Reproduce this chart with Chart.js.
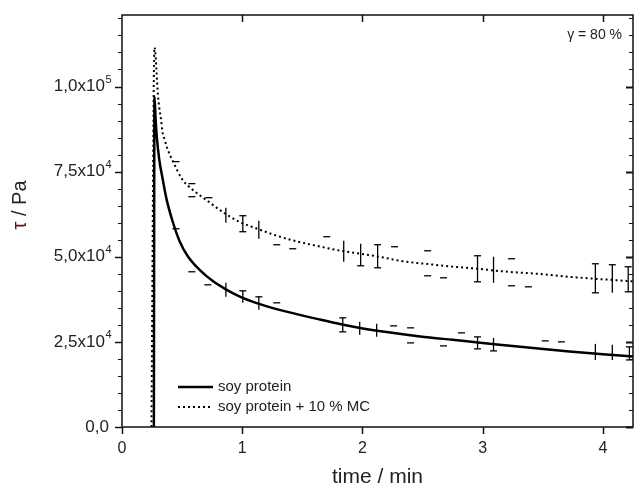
<!DOCTYPE html>
<html>
<head>
<meta charset="utf-8">
<script src="https://cdn.jsdelivr.net/npm/chart.js@4.4.0/dist/chart.umd.min.js"></script>
<style>
  html, body { margin: 0; padding: 0; background: #fff; }
</style>
</head>
<body>
<canvas id="grafico" width="635" height="489"></canvas>
<script>
// Dados (tempo em min, tensão em Pa)
const soloT = [0.265, 0.27, 0.28, 0.29, 0.31, 0.34, 0.37, 0.42, 0.48, 0.55, 0.65, 0.75, 0.86, 0.98, 1.12, 1.31, 1.64, 1.83, 1.98, 2.20, 2.48, 2.75, 3.00, 3.16, 3.44, 3.72, 4.00, 4.25];
const soloV = [0, 97000, 90000, 85000, 78500, 72500, 67000, 60500, 54500, 50000, 46000, 43000, 40500, 38300, 36400, 34400, 31600, 30100, 29100, 27900, 26600, 25600, 24700, 24100, 23100, 22200, 21400, 20700];

const mcT = [0.245, 0.27, 0.30, 0.31, 0.325, 0.335, 0.355, 0.375, 0.42, 0.50, 0.59, 0.70, 0.84, 0.98, 1.12, 1.26, 1.40, 1.62, 1.83, 1.98, 2.14, 2.33, 2.56, 2.75, 2.95, 3.17, 3.45, 3.72, 3.95, 4.20, 4.25];
const mcV = [0, 111500, 97000, 93800, 90200, 87000, 84400, 82000, 78300, 72800, 69600, 66700, 63100, 60200, 58300, 56500, 55000, 53200, 51700, 50900, 50000, 48700, 47800, 47100, 46500, 45700, 45000, 44100, 43500, 42900, 42800];

// Barras de erro (posição, limite inferior, superior, quais tampas aparecem)
const soloBarT = [0.864, 1.005, 1.138, 1.836, 1.977, 2.118, 2.957, 3.09, 3.937, 4.078, 4.22];
const soloBarLo = [38230, 36470, 34410, 27940, 27060, 26470, 22940, 22350, 19700, 19700, 19700];
const soloBarHi = [42350, 40000, 38230, 32060, 30880, 30290, 26470, 26180, 24410, 24120, 23530];
const soloBarCap = ['none', 'top', 'top', 'both', 'none', 'none', 'both', 'bottom', 'none', 'none', 'both'];
const soloCapT = [0.449, 0.581, 0.714, 1.287, 2.259, 2.4, 2.4, 2.674, 2.824, 3.52, 3.655];
const soloCapV = [58230, 45590, 41760, 36470, 29700, 29120, 24700, 23820, 27650, 25290, 25000];

const mcBarT = [0.864, 1.005, 1.138, 1.844, 1.985, 2.126, 2.957, 3.09, 3.937, 4.078, 4.21];
const mcBarLo = [60000, 57350, 55290, 48530, 47350, 46760, 42640, 42350, 39410, 39410, 39700];
const mcBarHi = [64400, 62050, 60590, 54700, 53820, 53530, 50290, 50000, 47940, 47650, 47060];
const mcBarCap = ['none', 'both', 'none', 'none', 'bottom', 'both', 'both', 'none', 'both', 'top', 'both'];
const mcCapT = [0.449, 0.581, 0.581, 0.723, 1.287, 1.42, 1.703, 2.267, 2.542, 2.542, 2.674, 3.24, 3.24, 3.38];
const mcCapV = [77940, 71470, 67640, 67350, 53530, 52350, 55880, 52940, 51760, 44410, 43820, 49410, 41470, 41170];

const nomes = ['soy protein', 'soy protein + 10 % MC'];
const xTicks = [0, 1, 2, 3, 4];
const yTicks = [0, 25000, 50000, 75000, 100000];
const xMax = 4.25;
const yMax = 121000;

const fonte = '"Liberation Sans", Arial, sans-serif';
const corTexto = '#222';

function pontos(ts, vs) {
    return ts.map((t, i) => ({ x: t, y: vs[i] }));
}

function traco(ctx, x1, y1, x2, y2, w) {
    ctx.lineWidth = w;
    ctx.beginPath();
    ctx.moveTo(x1, y1);
    ctx.lineTo(x2, y2);
    ctx.stroke();
}

// Rótulo do eixo y no estilo 2,5x10⁴ (expoente menor e elevado)
function rotuloY(ctx, v, xDir, py) {
    ctx.textAlign = 'left';
    ctx.textBaseline = 'middle';
    if (v === 0) {
        ctx.font = '17px ' + fonte;
        const w = ctx.measureText('0,0').width;
        ctx.fillText('0,0', xDir - w - 2, py);
        return;
    }
    const e = Math.floor(Math.log10(v) + 1e-9);
    const base = (v / Math.pow(10, e)).toFixed(1).replace('.', ',') + 'x10';
    ctx.font = '17px ' + fonte;
    const wBase = ctx.measureText(base).width;
    ctx.font = '11px ' + fonte;
    const wExp = ctx.measureText(String(e)).width;
    const x0 = xDir - wBase - wExp;
    ctx.font = '17px ' + fonte;
    ctx.fillText(base, x0, py);
    ctx.font = '11px ' + fonte;
    ctx.fillText(String(e), x0 + wBase + 0.5, py - 7);
}

// Desenha barras de erro e tampas soltas usando as escalas do gráfico
function barrasErro(chart, bt, lo, hi, caps, ct, cv) {
    const ctx = chart.ctx, x = chart.scales.x, y = chart.scales.y;
    const meia = 3.5;
    bt.forEach((t, i) => {
        const px = x.getPixelForValue(t);
        const pLo = y.getPixelForValue(lo[i]);
        const pHi = y.getPixelForValue(hi[i]);
        traco(ctx, px, pHi, px, pLo, 1.3);
        if (caps[i] === 'both' || caps[i] === 'top') traco(ctx, px - meia, pHi, px + meia, pHi, 1.3);
        if (caps[i] === 'both' || caps[i] === 'bottom') traco(ctx, px - meia, pLo, px + meia, pLo, 1.3);
    });
    ct.forEach((t, i) => {
        const px = x.getPixelForValue(t);
        const py = y.getPixelForValue(cv[i]);
        traco(ctx, px - meia, py, px + meia, py, 1.3);
    });
}

const moldura = {
    id: 'moldura',
    afterDatasetsDraw(chart) {
        const ctx = chart.ctx, a = chart.chartArea;
        ctx.save();
        ctx.beginPath();
        ctx.rect(a.left, a.top, a.width, a.height);
        ctx.clip();
        ctx.strokeStyle = '#000';
        barrasErro(chart, soloBarT, soloBarLo, soloBarHi, soloBarCap, soloCapT, soloCapV);
        barrasErro(chart, mcBarT, mcBarLo, mcBarHi, mcBarCap, mcCapT, mcCapV);
        ctx.restore();
    },
    afterDraw(chart) {
        const ctx = chart.ctx, a = chart.chartArea, x = chart.scales.x, y = chart.scales.y;
        ctx.save();
        ctx.strokeStyle = '#111';

        // moldura do gráfico
        ctx.lineWidth = 1.5;
        ctx.strokeRect(a.left, a.top, a.width, a.height);

        // marcas do eixo y (esquerda para fora, direita para dentro)
        for (let v = 0; v <= yMax; v += 5000) {
            const py = Math.round(y.getPixelForValue(v)) + 0.5;
            const maior = v % 25000 === 0;
            const len = maior ? 7 : 4;
            traco(ctx, a.left - len, py, a.left, py, maior ? 1.5 : 1);
            traco(ctx, a.right - len, py, a.right, py, maior ? 2 : 1);
        }
        // marcas do eixo x (embaixo para fora, em cima para dentro)
        xTicks.forEach(t => {
            const px = Math.round(x.getPixelForValue(t)) + 0.5;
            traco(ctx, px, a.bottom, px, a.bottom + 7, 1.5);
            if (t > 0) traco(ctx, px, a.top, px, a.top + 7, 1.5);
        });

        // rótulos do eixo y
        ctx.fillStyle = corTexto;
        yTicks.forEach(v => rotuloY(ctx, v, a.left - 11, y.getPixelForValue(v)));

        // títulos dos eixos
        ctx.font = '21px ' + fonte;
        ctx.textAlign = 'center';
        ctx.textBaseline = 'middle';
        ctx.fillText('time / min', (a.left + a.right) / 2, 477);

        ctx.save();
        ctx.font = '20px ' + fonte;
        ctx.translate(20, 205);
        ctx.rotate(-Math.PI / 2);
        const resto = ' / Pa';
        const wTau = ctx.measureText('τ').width;
        const wTotal = wTau + ctx.measureText(resto).width;
        ctx.textAlign = 'left';
        ctx.fillStyle = '#5a1414';
        ctx.fillText('τ', -wTotal / 2, 0);
        ctx.fillStyle = corTexto;
        ctx.fillText(resto, -wTotal / 2 + wTau, 0);
        ctx.restore();

        // anotação
        ctx.font = '14px ' + fonte;
        ctx.textAlign = 'right';
        ctx.fillText('γ = 80 %', 622, 35);

        // legenda
        const lx = a.left + 56, ly = a.bottom - 40;
        ctx.strokeStyle = '#000';
        traco(ctx, lx, ly, lx + 35, ly, 2.5);
        ctx.setLineDash([2, 3]);
        traco(ctx, lx, ly + 20, lx + 35, ly + 20, 2);
        ctx.setLineDash([]);
        ctx.font = '15px ' + fonte;
        ctx.textAlign = 'left';
        ctx.fillStyle = corTexto;
        ctx.fillText(nomes[0], lx + 40, ly);
        ctx.fillText(nomes[1], lx + 40, ly + 20);
        ctx.restore();
    }
};

const grafico = new Chart(document.getElementById('grafico'), {
    type: 'line',
    data: {
        datasets: [{
            label: nomes[0],
            data: pontos(soloT, soloV),
            borderColor: '#000',
            borderWidth: 2.5,
            pointRadius: 0,
            cubicInterpolationMode: 'monotone'
        }, {
            label: nomes[1],
            data: pontos(mcT, mcV),
            borderColor: '#000',
            borderWidth: 2,
            borderDash: [2, 3],
            pointRadius: 0,
            cubicInterpolationMode: 'monotone'
        }]
    },
    options: {
        responsive: false,
        animation: false,
        devicePixelRatio: 1,
        layout: { padding: { top: 15, right: 2, left: 0, bottom: 0 } },
        plugins: {
            legend: { display: false },
            tooltip: { enabled: false }
        },
        scales: {
            x: {
                type: 'linear',
                min: 0,
                max: xMax,
                afterFit(s) { s.height = 62; },
                grid: { display: false, drawTicks: false },
                border: { display: false },
                ticks: {
                    stepSize: 1,
                    includeBounds: false,
                    padding: 12,
                    color: corTexto,
                    font: { size: 16, family: fonte },
                    callback: v => (xTicks.includes(v) ? String(v) : null)
                }
            },
            y: {
                type: 'linear',
                min: 0,
                max: yMax,
                afterFit(s) { s.width = 122; },
                grid: { display: false, drawTicks: false },
                border: { display: false },
                ticks: { display: false }
            }
        }
    },
    plugins: [moldura]
});
</script>
</body>
</html>
